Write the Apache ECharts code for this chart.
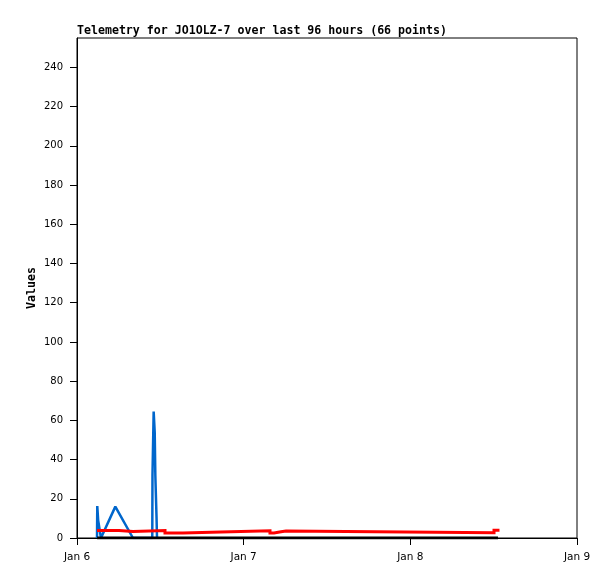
<!DOCTYPE html>
<html>
<head>
<meta charset="utf-8">
<script src="https://cdn.jsdelivr.net/npm/echarts@6/dist/echarts.min.js"></script>
<style>html,body{margin:0;padding:0;background:#fff}#c{width:615px;height:579px}</style>
</head>
<body>
<div id="c"></div>
<script>
// x values are hours after Jan 6 00:00
const dayLabels = ['Jan 6', 'Jan 7', 'Jan 8', 'Jan 9'];
const yTicks = [0, 20, 40, 60, 80, 100, 120, 140, 160, 180, 200, 220, 240];

const blueHours = [2.88, 2.92, 3.05, 3.45, 5.52, 8.06, 10.84, 10.87, 11.04, 11.19, 11.28, 11.45, 11.52];
const blueValues = [0, 16.3, 9, 0, 16, 0, 0, 32, 64.5, 54, 32, 11, 0];

const redHours = [3.1, 6.05, 8.06, 12.67, 15.26, 20.74, 27.79, 28.37, 29.38, 30.1, 60.05, 60.62];
const redValues = [3.8, 3.3, 3.8, 2.5, 3.1, 3.7, 2.6, 3.2, 3.6, 2.7, 3.9, 3.9];

const blackHours = [2.9, 60.62];
const blackValues = [0, 0];

const zip = (xs, ys) => xs.map((x, i) => [x, ys[i]]);
// hold each value until the next sample (step drawn from the samples)
const stepped = (xs, ys) => {
  const out = [];
  xs.forEach((x, i) => {
    if (i > 0) out.push([x, ys[i - 1]]);
    out.push([x, ys[i]]);
  });
  return out;
};

const chart = echarts.init(document.getElementById('c'), null, {renderer: 'canvas'});
chart.setOption({
  animation: false,
  backgroundColor: '#fff',
  title: {
    text: 'Telemetry for JO1OLZ-7 over last 96 hours (66 points)',
    left: 72, top: 20,
    textStyle: {fontFamily: 'DejaVu Sans Mono', fontWeight: 'bold', fontSize: 11.6, color: '#000'}
  },
  grid: {left: 77, top: 38, width: 500, height: 500, show: true, borderColor: '#000', borderWidth: 1, backgroundColor: 'transparent'},
  xAxis: {
    type: 'value', min: 0, max: 72, interval: 24,
    axisLine: {lineStyle: {color: '#000', width: 1}},
    axisTick: {show: true, inside: false, length: 7, lineStyle: {color: '#000'}},
    splitLine: {show: false},
    axisLabel: {
      margin: 14, color: '#000', fontFamily: 'DejaVu Sans', fontSize: 10.5,
      formatter: v => dayLabels[Math.round(v / 24)]
    }
  },
  yAxis: {
    type: 'value', min: 0, max: 255,
    name: 'Values', nameLocation: 'middle', nameGap: 39, nameRotate: 90, nameMoveOverlap: false,
    nameTextStyle: {fontFamily: 'DejaVu Sans Mono', fontWeight: 'bold', fontSize: 11.6, color: '#000'},
    axisLine: {show: true, lineStyle: {color: '#000', width: 1}},
    axisTick: {show: true, inside: false, length: 7, lineStyle: {color: '#000'}, customValues: yTicks},
    splitLine: {show: false},
    axisLabel: {margin: 14, color: '#000', fontFamily: 'DejaVu Sans', fontSize: 10, customValues: yTicks}
  },
  series: [
    {type: 'line', data: zip(blueHours, blueValues), symbol: 'none', lineStyle: {color: '#0066cc', width: 2.5}, z: 2},
    {type: 'line', data: stepped(redHours, redValues), symbol: 'none', lineStyle: {color: '#ff0000', width: 3, join: 'miter', cap: 'square'}, z: 3},
    {type: 'line', data: zip(blackHours, blackValues), symbol: 'none', lineStyle: {color: '#000', width: 3}, z: 4}
  ]
});
</script>
</body>
</html>
